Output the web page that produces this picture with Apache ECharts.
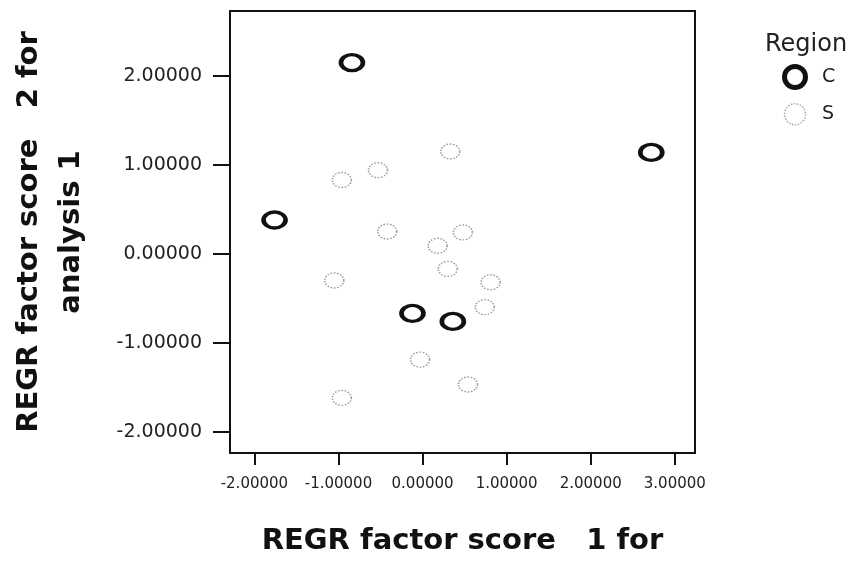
<!DOCTYPE html>
<html>
<head>
<meta charset="utf-8">
<script src="https://cdn.jsdelivr.net/npm/echarts@6/dist/echarts.min.js"></script>
<style>html,body{margin:0;padding:0;background:#fff}#c{width:864px;height:561px}</style>
</head>
<body>
<div id="c"></div>
<script>
// Data (x = REGR factor score 1, y = REGR factor score 2)
var seriesNames = ['C', 'S'];
var regionC = [[-0.84, 2.15], [2.72, 1.14], [-1.76, 0.38], [-0.12, -0.67], [0.36, -0.76]];
var regionS = [[0.33, 1.15], [-0.53, 0.94], [-0.96, 0.83], [-0.42, 0.25], [0.48, 0.24],
               [0.18, 0.09], [0.30, -0.17], [-1.05, -0.30], [0.81, -0.32], [0.74, -0.60],
               [-0.03, -1.19], [0.54, -1.47], [-0.96, -1.62]];
var xTicks = [-2, -1, 0, 1, 2, 3];
var yTicks = [-2, -1, 0, 1, 2];
var xTitle = 'REGR factor score   1 for';
var yTitle = 'REGR factor score   2 for\nanalysis 1';
var legendTitle = 'Region';

var fmt = function (v) { return v.toFixed(5); };
var chart = echarts.init(document.getElementById('c'), null, {renderer: 'canvas'});
chart.setOption({
  animation: false,
  backgroundColor: '#fff',
  title: {
    text: legendTitle, left: 760, top: 28,
    textStyle: {fontFamily: 'DejaVu Sans', fontSize: 24, fontWeight: 'normal', color: '#222'}
  },
  legend: {
    orient: 'vertical', left: 777, top: 59, itemGap: 13,
    itemWidth: 28, itemHeight: 21, symbolKeepAspect: false,
    textStyle: {fontFamily: 'DejaVu Sans', fontSize: 19, lineHeight: 21, color: '#222', padding: [0, 0, 0, 8]},
    data: [
      {name: 'C', icon: 'circle', itemStyle: {color: 'rgba(0,0,0,0)', borderColor: '#111', borderWidth: 5}},
      {name: 'S', icon: 'circle', itemStyle: {color: 'rgba(0,0,0,0)', borderColor: '#aaa', borderWidth: 1.5, borderType: 'dotted'}}
    ]
  },
  grid: {left: 229, top: 11, right: 169, bottom: 108, show: true, borderColor: '#111', borderWidth: 2, backgroundColor: '#fff'},
  xAxis: {
    type: 'value', min: -2.29, max: 3.24,
    name: xTitle, nameLocation: 'middle', nameGap: 74,
    nameTextStyle: {fontFamily: 'DejaVu Sans', fontWeight: 'bold', fontSize: 29, color: '#111'},
    axisLine: {show: true, onZero: false, lineStyle: {color: '#111', width: 2}},
    axisTick: {show: true, length: 12, customValues: xTicks, lineStyle: {color: '#111', width: 2}},
    axisLabel: {customValues: xTicks, formatter: fmt, margin: 24, fontFamily: 'DejaVu Sans', fontSize: 15, color: '#222'},
    splitLine: {show: false}
  },
  yAxis: {
    type: 'value', min: -2.24, max: 2.73,
    name: yTitle, nameLocation: 'middle', nameGap: 138, nameRotate: 90,
    nameTextStyle: {fontFamily: 'DejaVu Sans', fontWeight: 'bold', fontSize: 29, color: '#111', lineHeight: 42, align: 'center'},
    axisLine: {show: true, onZero: false, lineStyle: {color: '#111', width: 2}},
    axisTick: {show: true, length: 17, customValues: yTicks, lineStyle: {color: '#111', width: 2}},
    axisLabel: {customValues: yTicks, formatter: fmt, margin: 28, fontFamily: 'DejaVu Sans', fontSize: 19, color: '#222'},
    splitLine: {show: false}
  },
  series: [
    {
      name: seriesNames[0], type: 'scatter', data: regionC, symbol: 'circle', symbolSize: [22, 16], z: 3,
      itemStyle: {color: 'rgba(0,0,0,0)', borderColor: '#111', borderWidth: 4, opacity: 1}
    },
    {
      name: seriesNames[1], type: 'scatter', data: regionS, symbol: 'circle', symbolSize: [19, 15], z: 2,
      itemStyle: {color: 'rgba(0,0,0,0)', borderColor: '#9c9c9c', borderWidth: 1.5, borderType: 'dotted', opacity: 1}
    }
  ]
});
</script>
</body>
</html>
